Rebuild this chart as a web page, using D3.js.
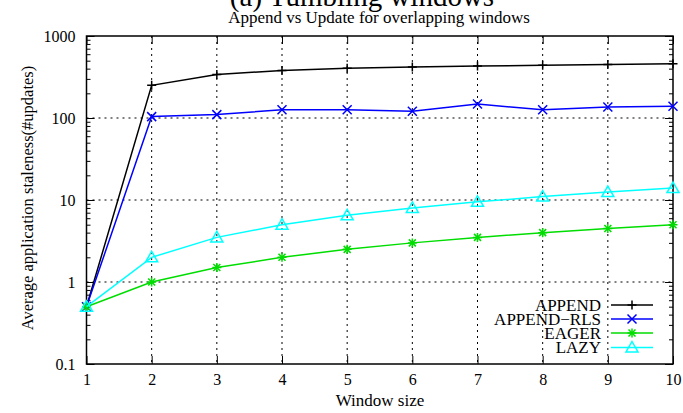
<!DOCTYPE html>
<html>
<head>
<meta charset="utf-8">
<script src="https://cdn.jsdelivr.net/npm/d3@7"></script>
<style>
  body { margin: 0; background: #fff; }
  text { font-family: "Liberation Serif", "DejaVu Serif", serif; fill: #000; }
</style>
</head>
<body>
<script>
// data
var windowSizes = [1, 2, 3, 4, 5, 6, 7, 8, 9, 10];
var appendVals = [0.5, 250, 340, 380, 405, 420, 430, 440, 450, 460];
var appendRlsVals = [0.5, 104, 110, 126, 126, 121, 148, 126, 136, 139];
var eagerVals = [0.5, 1, 1.5, 2, 2.5, 3, 3.5, 4, 4.5, 5];
var lazyVals = [0.5, 2, 3.5, 5, 6.5, 8, 9.5, 11, 12.5, 14];
var seriesNames = ["APPEND", "APPEND\u2212RLS", "EAGER", "LAZY"];
var seriesColors = ["#000000", "#0000ff", "#00dd00", "#00ffff"];
var seriesMarkers = ["plus", "cross", "star", "triangle"];
var yTicks = [0.1, 1, 10, 100, 1000];
var yTickLabels = ["0.1", "1", "10", "100", "1000"];

var W = 683, H = 413;
var margin = {top: 36, right: 10, bottom: 49, left: 86.5};
var width = 673 - margin.left, height = 364 - margin.top;

var svg = d3.select("body").append("svg")
    .attr("width", W).attr("height", H);

var x = d3.scaleLinear().domain([1, 10]).range([margin.left, margin.left + width]);
var y = d3.scaleLog().domain([0.1, 1000]).range([margin.top + height, margin.top]);

// titles
svg.append("text")
    .attr("x", 362).attr("y", 6)
    .attr("text-anchor", "middle")
    .style("font-size", "29px")
    .text("(a) Tumbling windows");
svg.append("text")
    .attr("x", 379).attr("y", 23)
    .attr("text-anchor", "middle")
    .style("font-size", "17px")
    .text("Append vs Update for overlapping windows");

// grid
var grid = svg.append("g").attr("class", "grid")
    .attr("stroke", "#000").attr("stroke-width", 1)
    .attr("stroke-dasharray", "2,4");
grid.selectAll("line.v")
    .data(windowSizes.slice(1, -1))
    .enter().append("line")
    .attr("x1", function(d) { return x(d); })
    .attr("x2", function(d) { return x(d); })
    .attr("y1", y(1000)).attr("y2", y(0.1));
grid.selectAll("line.h")
    .data([1, 10, 100])
    .enter().append("line")
    .attr("x1", x(1)).attr("x2", x(10))
    .attr("y1", function(d) { return y(d); })
    .attr("y2", function(d) { return y(d); });

// minor log ticks
var minor = [];
for (var e = -1; e < 3; e++) {
  for (var m = 2; m <= 9; m++) minor.push(m * Math.pow(10, e));
}

function drawAxes() {
  // left + right axes, inward ticks
  var left = d3.axisLeft(y).tickValues(yTicks).tickSize(-8).tickFormat(function(d, i) { return yTickLabels[i]; });
  var gl = svg.append("g").attr("transform", "translate(" + x(1) + ",0)").call(left);
  gl.select(".domain").remove();
  gl.selectAll("text").attr("x", -11).style("font-size", "16px").style("font-family", "Liberation Serif");
  var gl2 = svg.append("g").attr("transform", "translate(" + x(1) + ",0)")
      .call(d3.axisLeft(y).tickValues(minor).tickSize(-4).tickFormat(""));
  gl2.select(".domain").remove();

  var gr = svg.append("g").attr("transform", "translate(" + x(10) + ",0)")
      .call(d3.axisRight(y).tickValues(yTicks).tickSize(-8).tickFormat(""));
  gr.select(".domain").remove();
  var gr2 = svg.append("g").attr("transform", "translate(" + x(10) + ",0)")
      .call(d3.axisRight(y).tickValues(minor).tickSize(-4).tickFormat(""));
  gr2.select(".domain").remove();

  // bottom + top
  var gb = svg.append("g").attr("transform", "translate(0," + y(0.1) + ")")
      .call(d3.axisBottom(x).tickValues(windowSizes).tickSize(-8).tickFormat(d3.format("d")));
  gb.select(".domain").remove();
  gb.selectAll("text").attr("y", 10).style("font-size", "16px").style("font-family", "Liberation Serif");
  var gt = svg.append("g").attr("transform", "translate(0," + y(1000) + ")")
      .call(d3.axisTop(x).tickValues(windowSizes).tickSize(-8).tickFormat(""));
  gt.select(".domain").remove();

  svg.selectAll(".tick line").attr("stroke", "#000").attr("stroke-width", 1);

  svg.append("rect")
      .attr("x", x(1)).attr("y", y(1000))
      .attr("width", x(10) - x(1)).attr("height", y(0.1) - y(1000))
      .attr("fill", "none").attr("stroke", "#000").attr("stroke-width", 1.5);
}
drawAxes();

// axis labels
svg.append("text")
    .attr("x", 380).attr("y", 406)
    .attr("text-anchor", "middle")
    .style("font-size", "17px")
    .text("Window size");
svg.append("text")
    .attr("transform", "translate(33,198) rotate(-90)")
    .attr("text-anchor", "middle")
    .style("font-size", "16.5px")
    .text("Average application staleness(#updates)");

// markers
function marker(sel, type, color) {
  var s = 4.5;
  if (type === "plus" || type === "star") {
    sel.append("path").attr("d", "M" + (-s) + ",0H" + s + "M0," + (-s) + "V" + s)
      .attr("stroke", color).attr("stroke-width", 1.5).attr("fill", "none");
  }
  if (type === "cross" || type === "star") {
    var c = type === "star" ? 3.5 : 4.5;
    sel.append("path").attr("d", "M" + (-c) + "," + (-c) + "L" + c + "," + c + "M" + (-c) + "," + c + "L" + c + "," + (-c))
      .attr("stroke", color).attr("stroke-width", 1.5).attr("fill", "none");
  }
  if (type === "triangle") {
    sel.append("path").attr("d", "M0,-6L6,4.5H-6Z")
      .attr("stroke", color).attr("stroke-width", 1.5).attr("fill", "none");
  }
}

var allSeries = [appendVals, appendRlsVals, eagerVals, lazyVals];
var line = d3.line()
    .x(function(d, i) { return x(windowSizes[i]); })
    .y(function(d) { return y(d); });

allSeries.forEach(function(vals, k) {
  var g = svg.append("g").attr("class", "series");
  g.append("path")
      .attr("d", line(vals))
      .attr("fill", "none")
      .attr("stroke", seriesColors[k])
      .attr("stroke-width", 1.5);
  g.selectAll("g.pt")
      .data(vals)
      .enter().append("g")
      .attr("transform", function(d, i) { return "translate(" + x(windowSizes[i]) + "," + y(d) + ")"; })
      .each(function() { marker(d3.select(this), seriesMarkers[k], seriesColors[k]); });
});

// legend
var legendY = [305, 319, 333, 347.5];
var lg = svg.append("g").attr("class", "legend");
seriesNames.forEach(function(name, k) {
  lg.append("text")
      .attr("x", 601).attr("y", legendY[k] + 5.5)
      .attr("text-anchor", "end")
      .style("font-size", "17px")
      .text(name);
  lg.append("line")
      .attr("x1", 611).attr("x2", 653)
      .attr("y1", legendY[k]).attr("y2", legendY[k])
      .attr("stroke", seriesColors[k]).attr("stroke-width", 1.5);
  var mg = lg.append("g").attr("transform", "translate(632," + legendY[k] + ")");
  marker(mg, seriesMarkers[k], seriesColors[k]);
});
</script>
</body>
</html>
